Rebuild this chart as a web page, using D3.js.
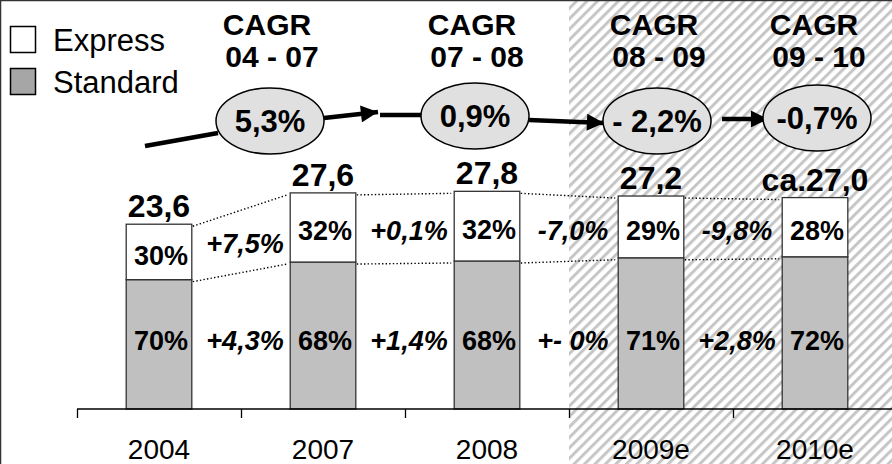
<!DOCTYPE html>
<html><head><meta charset="utf-8">
<script src="https://cdn.jsdelivr.net/npm/d3@7"></script>
<style>
html,body{margin:0;padding:0;background:#fff;}
svg{display:block;font-family:"Liberation Sans",Arial,sans-serif;}
</style></head>
<body>
<svg id="c" width="892" height="464"></svg>
<script>
// ---- data ----
const categories = ["2004", "2007", "2008", "2009e", "2010e"];
const totals = [23.6, 27.6, 27.8, 27.2, 27.0];
const totalLabels = ["23,6", "27,6", "27,8", "27,2", "ca.27,0"];
const expressShare = [30, 32, 32, 29, 28];
const standardShare = [70, 68, 68, 71, 72];
const expressChange = ["+7,5%", "+0,1%", "-7,0%", "-9,8%"];
const standardChange = ["+4,3%", "+1,4%", "+- 0%", "+2,8%"];
const cagrPeriods = ["04 - 07", "07 - 08", "08 - 09", "09 - 10"];
const cagrValues = ["5,3%", "0,9%", "- 2,2%", "-0,7%"];
const forecastFrom = "2009e";

// ---- setup ----
const W = 892, H = 464;
const svg = d3.select("#c");

const x = d3.scaleBand().domain(categories).range([77, 77 + 5 * 164]).padding(0);
const y = d3.scaleLinear().domain([0, 30]).range([409, 409 - 30 * 7.83]);
const barW = x.bandwidth() * 0.4;
const cx = c => x(c) + x.bandwidth() / 2;

// hatch pattern
const defs = svg.append("defs");
const P = 7.4;
const pat = defs.append("pattern").attr("id", "hatch").attr("patternUnits", "userSpaceOnUse")
  .attr("width", P).attr("height", P).attr("patternTransform", "rotate(45)");
pat.append("rect").attr("width", P).attr("height", P).attr("fill", "#fff");
pat.append("rect").attr("x", 0).attr("width", 3.0).attr("height", P).attr("fill", "#c6c6c6");

svg.append("rect").attr("width", W).attr("height", H).attr("fill", "#fff");
svg.append("rect").attr("x", x(forecastFrom)).attr("y", 0)
  .attr("width", W - x(forecastFrom)).attr("height", H).attr("fill", "url(#hatch)");

// border (top & left)
svg.append("line").attr("x1", 0).attr("x2", W).attr("y1", 0.5).attr("y2", 0.5).attr("stroke", "#333").attr("stroke-width", 1.5);
svg.append("line").attr("x1", 0.5).attr("x2", 0.5).attr("y1", 0).attr("y2", H).attr("stroke", "#333").attr("stroke-width", 1.5);

// bars
const rows = categories.map((c, i) => {
  const t = totals[i];
  const std = t * standardShare[i] / 100;
  return { c, i, t, std };
});
const g = svg.append("g");
g.selectAll("rect.std").data(rows).join("rect")
  .attr("x", d => cx(d.c) - barW / 2).attr("width", barW)
  .attr("y", d => y(d.std)).attr("height", d => y(0) - y(d.std))
  .attr("fill", "#c0c0c0").attr("stroke", "#333").attr("stroke-width", 1.3);
g.selectAll("rect.exp").data(rows).join("rect")
  .attr("x", d => cx(d.c) - barW / 2).attr("width", barW)
  .attr("y", d => y(d.t)).attr("height", d => y(d.std) - y(d.t))
  .attr("fill", "#fff").attr("stroke", "#333").attr("stroke-width", 1.3);

// dotted connectors
for (let i = 0; i < rows.length - 1; i++) {
  const a = rows[i], b = rows[i + 1];
  const x1 = cx(a.c) + barW / 2 + 1, x2 = cx(b.c) - barW / 2 - 3;
  [[a.t, b.t], [a.std, b.std]].forEach(([v1, v2]) => {
    svg.append("line").attr("x1", x1).attr("x2", x2)
      .attr("y1", y(v1) + 2).attr("y2", y(v2) + 2)
      .attr("stroke", "#000").attr("stroke-width", 1.4).attr("stroke-dasharray", "1.4,2.2");
  });
}

// axis
svg.append("line").attr("x1", x.range()[0]).attr("x2", W).attr("y1", y(0)).attr("y2", y(0))
  .attr("stroke", "#000").attr("stroke-width", 1.3);
categories.forEach(c => {
  svg.append("line").attr("x1", x(c) + 0.5).attr("x2", x(c) + 0.5).attr("y1", y(0)).attr("y2", y(0) + 9)
    .attr("stroke", "#000").attr("stroke-width", 1.3);
  svg.append("text").attr("x", cx(c)).attr("y", 459).attr("text-anchor", "middle")
    .attr("font-size", 28).attr("fill", "#000").text(c);
});

// labels on bars
rows.forEach(d => {
  svg.append("text").attr("x", cx(d.c)).attr("y", y(d.t) - 7).attr("text-anchor", "middle")
    .attr("font-size", 32).attr("font-weight", "bold").text(totalLabels[d.i]);
  svg.append("text").attr("x", cx(d.c) + 2).attr("y", (y(d.t) + y(d.std)) / 2 + 13).attr("text-anchor", "middle")
    .attr("font-size", 27).attr("font-weight", "bold").text(expressShare[d.i] + "%");
  svg.append("text").attr("x", cx(d.c) + 2).attr("y", y(7.5)).attr("text-anchor", "middle")
    .attr("font-size", 27).attr("font-weight", "bold").text(standardShare[d.i] + "%");
});

// change labels between bars
for (let i = 0; i < rows.length - 1; i++) {
  const a = rows[i], b = rows[i + 1];
  const xm = x(b.c) + 4;
  const ym = ((y(a.t) + y(a.std)) / 2 + (y(b.t) + y(b.std)) / 2) / 2 + 13;
  svg.append("text").attr("x", xm).attr("y", ym).attr("text-anchor", "middle")
    .attr("font-size", 27).attr("font-weight", "bold").attr("font-style", "italic").text(expressChange[i]);
  svg.append("text").attr("x", xm).attr("y", y(7.5)).attr("text-anchor", "middle")
    .attr("font-size", 27).attr("font-weight", "bold").attr("font-style", "italic").text(standardChange[i]);
}

// legend
const leg = [["Express", "#fff"], ["Standard", "#a6a6a6"]];
leg.forEach(([t, f], i) => {
  svg.append("rect").attr("x", 10.5).attr("y", 26.5 + i * 42).attr("width", 25).attr("height", 26)
    .attr("fill", f).attr("stroke", "#000").attr("stroke-width", 1.5);
  svg.append("text").attr("x", 53).attr("y", 51 + i * 42).attr("font-size", 31).text(t);
});

// CAGR annotations (layout positions of ellipses)
const ell = [
  { x: 270, y: 121 }, { x: 475, y: 116 }, { x: 657, y: 121 }, { x: 817, y: 118 }
];
const RX = 54, RY = 33;
defs.append("marker").attr("id", "ah").attr("viewBox", "0 0 10 10").attr("refX", 10).attr("refY", 5)
  .attr("markerWidth", 4.0).attr("markerHeight", 3.8).attr("markerUnits", "strokeWidth").attr("orient", "auto")
  .append("path").attr("d", "M0,0 L10,5 L0,10 Z").attr("fill", "#000");
const arrows = [
  { p: [[ell[0].x - 125, ell[0].y + 25], [ell[0].x - 52, ell[0].y + 12]], head: false },
  { p: [[ell[0].x + 54, ell[0].y - 3], [ell[1].x - 97, ell[1].y - 4]], head: true },
  { p: [[ell[1].x - 95, ell[1].y - 1], [ell[1].x - 52, ell[1].y - 1]], head: false },
  { p: [[ell[1].x + 54, ell[1].y + 4], [ell[2].x - 53, ell[2].y + 2]], head: true },
  { p: [[ell[2].x + 65, ell[2].y - 2], [ell[3].x - 49, ell[3].y + 1]], head: true }
];
arrows.forEach(a => {
  const ln = svg.append("line").attr("x1", a.p[0][0]).attr("y1", a.p[0][1])
    .attr("x2", a.p[1][0]).attr("y2", a.p[1][1]).attr("stroke", "#000").attr("stroke-width", 4.5);
  if (a.head) ln.attr("marker-end", "url(#ah)");
});
cagrPeriods.forEach((p, i) => {
  const e = ell[i];
  svg.append("ellipse").attr("cx", e.x).attr("cy", e.y).attr("rx", RX).attr("ry", RY)
    .attr("fill", "#e0e0e0").attr("stroke", "#000").attr("stroke-width", 1.5);
  svg.append("text").attr("x", e.x).attr("y", e.y + 11).attr("text-anchor", "middle")
    .attr("font-size", 31).attr("font-weight", "bold").text(cagrValues[i]);
  svg.append("text").attr("x", e.x - 3).attr("y", 35).attr("text-anchor", "middle")
    .attr("font-size", 30).attr("font-weight", "bold").text("CAGR");
  svg.append("text").attr("x", e.x + 2).attr("y", 67).attr("text-anchor", "middle")
    .attr("font-size", 30).attr("font-weight", "bold").text(p);
});
</script>
</body></html>
